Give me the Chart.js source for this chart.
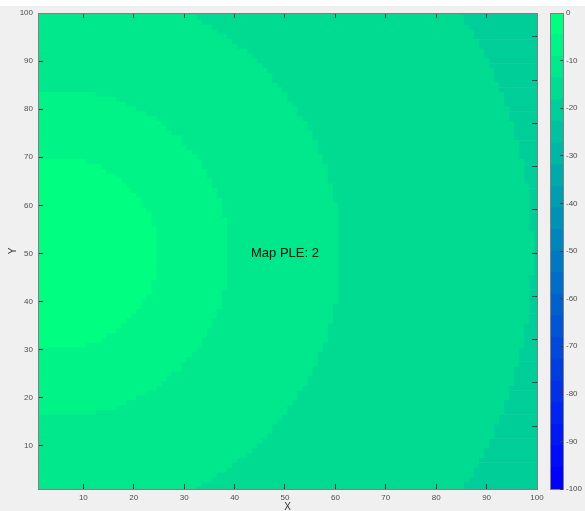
<!DOCTYPE html>
<html><head><meta charset="utf-8">
<script src="https://cdn.jsdelivr.net/npm/chart.js@4"></script>
<style>
html,body{margin:0;padding:0;background:#f0f0f0;width:585px;height:511px;overflow:hidden;position:relative}
#topStrip{position:absolute;left:0;top:0;width:585px;height:6px;background:#ffffff}
#map{position:absolute;left:0;top:0;width:545px;height:511px}
#cbar{position:absolute;left:540px;top:0;width:45px;height:511px}
</style></head><body>
<div id="topStrip"></div>
<canvas id="map" width="545" height="511"></canvas>
<canvas id="cbar" width="45" height="511"></canvas>
<script>
// ---- data ----
// grid rows y = 1..100 (bottom to top), grid columns x = 1..100
const rowY = Array.from({length: 100}, (_, i) => i + 1);
const lastColumn = 100;
// for each row: last column whose value falls in the band (or a brighter one); null = none
const edgeBand1 = [
  null,null,null,null,null,null,null,null,null,null,
  null,null,null,null,null,null,null,null,null,null,
  null,null,null,null,null,null,null,null,null,null,
  10,13,14,16,17,18,19,20,21,21,
  22,23,23,23,24,24,24,24,24,24,
  24,24,24,24,24,23,23,23,22,21,
  21,20,19,18,17,16,14,13,10,null,
  null,null,null,null,null,null,null,null,null,null,
  null,null,null,null,null,null,null,null,null,null,
  null,null,null,null,null,null,null,null,null,null];
const edgeBand2 = [
  null,null,null,null,null,null,null,null,null,null,
  null,null,null,null,null,null,12,16,18,20,
  22,24,25,26,27,29,29,30,31,32,
  33,33,34,34,35,35,36,36,37,37,
  37,37,38,38,38,38,38,38,38,38,
  38,38,38,38,38,38,38,37,37,37,
  37,36,36,35,35,34,34,33,33,32,
  31,30,29,29,27,26,25,24,22,20,
  18,16,12,null,null,null,null,null,null,null,
  null,null,null,null,null,null,null,null,null,null];
const edgeBand3 = [
  32,33,35,36,38,39,40,42,43,44,
  45,46,47,47,48,49,50,50,51,52,
  52,53,54,54,55,55,56,56,56,57,
  57,58,58,58,58,59,59,59,59,60,
  60,60,60,60,60,60,60,60,60,60,
  60,60,60,60,60,60,60,60,60,60,
  59,59,59,59,58,58,58,58,57,57,
  56,56,56,55,55,54,54,53,52,52,
  51,50,50,49,48,47,47,46,45,44,
  43,42,40,39,38,36,35,33,32,30];
const edgeBand4 = [
  85,85,86,87,87,88,88,89,89,90,
  90,91,91,91,92,92,93,93,93,94,
  94,94,95,95,95,95,96,96,96,96,
  97,97,97,97,97,98,98,98,98,98,
  98,98,98,98,98,99,99,99,99,99,
  99,99,99,99,98,98,98,98,98,98,
  98,98,98,98,97,97,97,97,97,96,
  96,96,96,95,95,95,95,94,94,94,
  93,93,93,92,92,91,91,91,90,90,
  89,89,88,88,87,87,86,85,85,84];
// band 5 (darkest) fills every row to the last column
const bandEdges = [edgeBand1, edgeBand2, edgeBand3, edgeBand4, null];
// colormap level of each band (0 = -100 dB ... 21 = 0 dB)
const bandLevels = [21, 20, 19, 18, 17];

// colorbar: 22 levels from -100 to 0
const colorbarEdges = [-100,-95.45,-90.91,-86.36,-81.82,-77.27,-72.73,-68.18,-63.64,-59.09,-54.55,
  -50,-45.45,-40.91,-36.36,-31.82,-27.27,-22.73,-18.18,-13.64,-9.09,-4.55,0];
const colorbarTicks = [0,-10,-20,-30,-40,-50,-60,-70,-80,-90,-100];
const axisTicks = [10,20,30,40,50,60,70,80,90,100];
const mapLabel = 'Map PLE: 2';
const mapLabelAt = [50, 50];

// ---- styles ----
const winterMap = [
  'rgb(0,0,255)','rgb(0,12,249)','rgb(0,24,243)','rgb(0,36,237)','rgb(0,49,231)','rgb(0,61,225)',
  'rgb(0,73,219)','rgb(0,85,213)','rgb(0,97,206)','rgb(0,109,200)','rgb(0,121,194)','rgb(0,134,188)',
  'rgb(0,146,182)','rgb(0,158,176)','rgb(0,170,170)','rgb(0,182,164)','rgb(0,194,158)','rgb(0,206,152)',
  'rgb(0,219,146)','rgb(0,231,140)','rgb(0,243,134)','rgb(0,255,128)'];
const FAM = '"Liberation Sans", Arial, Helvetica, sans-serif';
const tickFont = {family: FAM, size: 8};
const tickLabelColor = '#4d4d4d';
const tickMarkColor = '#3a3a3a';
const boxColor = '#808080';

const mapDatasets = bandEdges.map((edges, b) => {
  const data = [];
  rowY.forEach((y, i) => {
    const last = edges ? edges[i] : lastColumn;
    if (last !== null && last !== undefined) data.push({y: y, x: [0.5, last + 0.5]});
  });
  return {
    data: data,
    backgroundColor: winterMap[bandLevels[b]],
    borderWidth: 0,
    grouped: false,
    clip: 0,
    barPercentage: 1.12,
    categoryPercentage: 1
  };
});

const setTicks = (vals) => (s) => { s.ticks = vals.map(v => ({value: v})); };
const innerGrid = (len) => ({drawOnChartArea: false, drawTicks: true, tickLength: len, tickColor: tickMarkColor, lineWidth: 1, offset: false, z: 1});
const boxBorder = {display: true, color: boxColor, width: 1, z: 1};
const fixSize = (w, h) => (s) => {
  if (w !== null) s.width = w;
  if (h !== null) s.height = h;
  s.paddingLeft = 0; s.paddingRight = 0; s.paddingTop = 0; s.paddingBottom = 0;
};

const labelPlugin = {
  id: 'mapLabel',
  afterDatasetsDraw(chart) {
    const {ctx, scales} = chart;
    ctx.save();
    ctx.font = '13px ' + FAM;
    ctx.fillStyle = '#111';
    ctx.textAlign = 'center';
    ctx.textBaseline = 'middle';
    ctx.fillText(mapLabel, scales.x.getPixelForValue(mapLabelAt[0]), scales.y.getPixelForValue(mapLabelAt[1]));
    ctx.restore();
  }
};

new Chart(document.getElementById('map'), {
  type: 'bar',
  data: {datasets: mapDatasets},
  plugins: [labelPlugin],
  options: {
    indexAxis: 'y',
    responsive: false,
    animation: false,
    devicePixelRatio: 1,
    events: [],
    layout: {padding: {left: 4, top: 13, right: 8, bottom: 0}},
    plugins: {legend: {display: false}, tooltip: {enabled: false}},
    scales: {
      x: {
        type: 'linear', position: 'bottom', min: 1, max: 100,
        afterBuildTicks: setTicks(axisTicks),
        ticks: {autoSkip: false, maxRotation: 0, font: tickFont, color: tickLabelColor, padding: 9, callback: v => String(v)},
        grid: innerGrid(-5), border: boxBorder,
        title: {display: true, text: 'X', font: {family: FAM, size: 10}, color: '#333', padding: {top: 0, bottom: -2}},
        afterFit: fixSize(null, 22)
      },
      y: {
        type: 'linear', position: 'left', min: 1, max: 100, offset: false,
        afterBuildTicks: setTicks(axisTicks),
        ticks: {autoSkip: false, font: tickFont, color: tickLabelColor, padding: 10, callback: v => String(v)},
        grid: innerGrid(-5), border: boxBorder,
        title: {display: true, text: 'Y', font: {family: FAM, size: 10}, color: '#333', padding: {top: 3, bottom: 0}},
        afterFit: fixSize(34, null)
      },
      xTop: {
        type: 'linear', position: 'top', min: 1, max: 100,
        afterBuildTicks: setTicks(axisTicks),
        ticks: {display: false}, grid: innerGrid(-5), border: boxBorder,
        afterFit: fixSize(null, 0)
      },
      yRight: {
        type: 'linear', position: 'right', min: 1, max: 100,
        afterBuildTicks: setTicks(axisTicks),
        ticks: {display: false}, grid: innerGrid(-5), border: boxBorder,
        afterFit: fixSize(0, null)
      }
    }
  }
});

// ---- colorbar ----
const cbarDatasets = winterMap.map((c, k) => ({
  data: [[colorbarEdges[0], colorbarEdges[k + 1]]],
  backgroundColor: c,
  borderWidth: 0,
  grouped: false,
  clip: 0,
  barPercentage: 1,
  categoryPercentage: 1
}));

new Chart(document.getElementById('cbar'), {
  type: 'bar',
  data: {labels: [''], datasets: cbarDatasets},
  options: {
    responsive: false,
    animation: false,
    devicePixelRatio: 1,
    events: [],
    layout: {padding: {left: 10, top: 13, right: 0, bottom: 22}},
    plugins: {legend: {display: false}, tooltip: {enabled: false}},
    scales: {
      x: {
        type: 'category', position: 'bottom', offset: true,
        ticks: {display: false}, grid: {display: false}, border: boxBorder,
        afterFit: fixSize(null, 0)
      },
      y: {
        type: 'linear', position: 'right', min: -100, max: 0,
        afterBuildTicks: setTicks(colorbarTicks),
        ticks: {autoSkip: false, font: tickFont, color: tickLabelColor, padding: 6, callback: v => String(v)},
        grid: innerGrid(-3), border: boxBorder,
        afterFit: fixSize(22, null)
      },
      yLeft: {
        type: 'linear', position: 'left', min: -100, max: 0,
        ticks: {display: false}, grid: {display: false}, border: boxBorder,
        afterFit: fixSize(0, null)
      },
      xTop: {
        type: 'linear', position: 'top', min: 0, max: 1,
        ticks: {display: false}, grid: {display: false}, border: boxBorder,
        afterFit: fixSize(null, 0)
      }
    }
  }
});
</script>
</body></html>
